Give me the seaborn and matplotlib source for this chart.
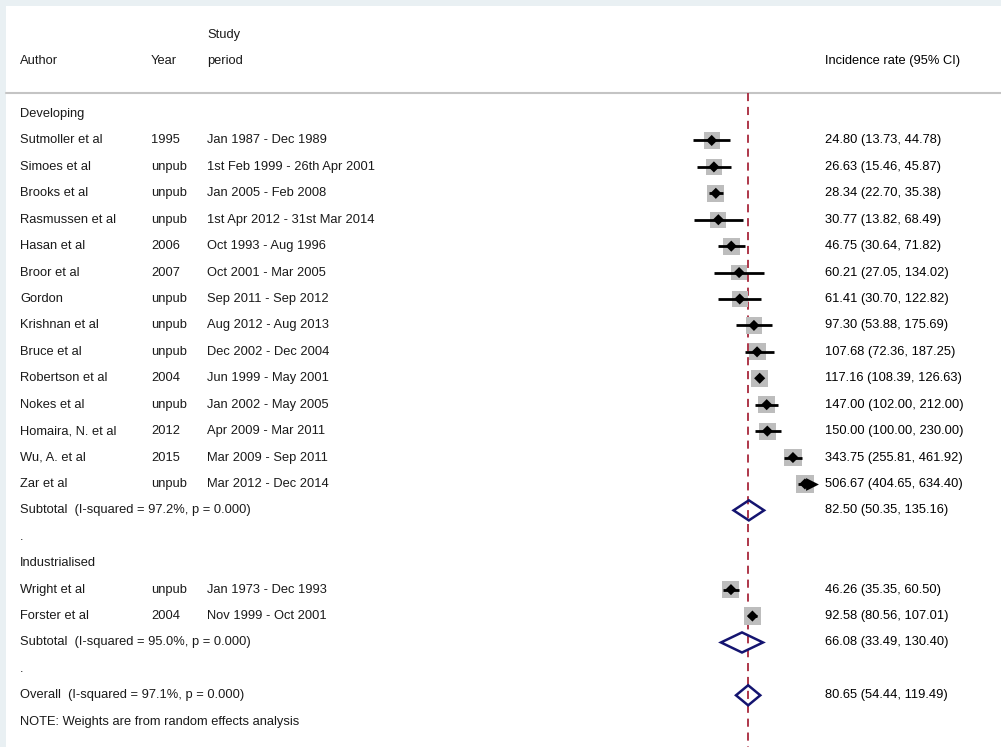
import numpy as np
import pandas as pd
import matplotlib
matplotlib.use("Agg")
import matplotlib.pyplot as plt
import matplotlib.transforms as mtransforms
from matplotlib.patches import Rectangle, Polygon
import seaborn as sns

sns.set_theme(style="white")
plt.rcParams["font.family"] = ["Liberation Sans", "DejaVu Sans"]

# ---- study-level data -------------------------------------------------
authors = ["Sutmoller et al", "Simoes et al", "Brooks et al", "Rasmussen et al",
           "Hasan et al", "Broor et al", "Gordon", "Krishnan et al", "Bruce et al",
           "Robertson et al", "Nokes et al", "Homaira, N. et al", "Wu, A. et al",
           "Zar et al", "Wright et al", "Forster et al"]
years = ["1995", "unpub", "unpub", "unpub", "2006", "2007", "unpub", "unpub",
         "unpub", "2004", "unpub", "2012", "2015", "unpub", "unpub", "2004"]
periods = ["Jan 1987 - Dec 1989", "1st Feb 1999 - 26th Apr 2001",
           "Jan 2005 - Feb 2008", "1st Apr 2012 - 31st Mar 2014",
           "Oct 1993 - Aug 1996", "Oct 2001 - Mar 2005", "Sep 2011 - Sep 2012",
           "Aug 2012 - Aug 2013", "Dec 2002 - Dec 2004", "Jun 1999 - May 2001",
           "Jan 2002 - May 2005", "Apr 2009 - Mar 2011", "Mar 2009 - Sep 2011",
           "Mar 2012 - Dec 2014", "Jan 1973 - Dec 1993", "Nov 1999 - Oct 2001"]
groups = ["Developing"] * 14 + ["Industrialised"] * 2
rate = [24.80, 26.63, 28.34, 30.77, 46.75, 60.21, 61.41, 97.30, 107.68,
        117.16, 147.00, 150.00, 343.75, 506.67, 46.26, 92.58]
lower = [13.73, 15.46, 22.70, 13.82, 30.64, 27.05, 30.70, 53.88, 72.36,
         108.39, 102.00, 100.00, 255.81, 404.65, 35.35, 80.56]
upper = [44.78, 45.87, 35.38, 68.49, 71.82, 134.02, 122.82, 175.69, 187.25,
         126.63, 212.00, 230.00, 461.92, 634.40, 60.50, 107.01]
weight = [6.4, 6.5, 7.2, 6.2, 7.0, 5.9, 6.3, 6.5, 7.0, 7.4, 7.1, 7.0, 7.2, 7.3,
          7.1, 7.4]

# ---- pooled estimates ---------------------------------------------------
pooled_labels = ["Subtotal  (I-squared = 97.2%, p = 0.000)",
                 "Subtotal  (I-squared = 95.0%, p = 0.000)",
                 "Overall  (I-squared = 97.1%, p = 0.000)"]
pooled_rate = [82.50, 66.08, 80.65]
pooled_lower = [50.35, 33.49, 54.44]
pooled_upper = [135.16, 130.40, 119.49]

note_text = "NOTE: Weights are from random effects analysis"
axis_max = 634.40

# ---- row layout ---------------------------------------------------------
study_rows = list(range(4, 18)) + [21, 22]
pooled_rows = [18, 23, 25]
group_rows = {"Developing": 3, "Industrialised": 20}
dot_rows = [19, 24]
note_row = 26

df = pd.DataFrame({"author": authors, "year": years, "period": periods,
                   "group": groups, "rate": rate, "lower": lower,
                   "upper": upper, "weight": weight, "row": study_rows})

W, H, DPI = 1001, 747, 100
fig = plt.figure(figsize=(W / DPI, H / DPI), dpi=DPI)
fig.patch.set_facecolor("#e9f0f3")
fig.patches.append(Rectangle((6 / W, 0), 1 - 6 / W, 1 - 6 / H,
                             transform=fig.transFigure, facecolor="white",
                             edgecolor="none", zorder=-10))

ax = fig.add_axes([0, 0, 1, 1])
ax.set_facecolor("none")
ax.set_xscale("log")
# log-scale mapping: 24.8 sits at pixel 711.7, 30.9 px per natural-log unit
px_per_ln, x_ref_px, x_ref_val = 30.9, 711.7, 24.8
ax.set_xlim(x_ref_val * np.exp(-x_ref_px / px_per_ln),
            x_ref_val * np.exp((W - x_ref_px) / px_per_ln))
row_px, row0_px = 26.42, 34.8
ax.set_ylim((H - row0_px) / row_px, -row0_px / row_px)
ax.axis("off")

tr = mtransforms.blended_transform_factory(fig.transFigure, ax.transData)

# header rule and overall-estimate dashed line
rule_row = (93.5 - row0_px) / row_px
ax.plot([6 / W, 1], [rule_row, rule_row], color="#c4c4c4", lw=1.5,
        transform=tr, zorder=1)
ax.vlines(pooled_rate[2], rule_row, ax.get_ylim()[0], colors="#a8283c",
          linestyles=(0, (4.5, 3.2)), lw=1.3, zorder=1)

# CI whiskers
for r in df.itertuples():
    hi = min(r.upper, axis_max)
    ax.hlines(r.row, r.lower, hi, colors="black", lw=2.0, zorder=4)

# weight boxes (area proportional to weight)
box_side_pt = 6.4 * np.sqrt(df["weight"].to_numpy()) * 0.72
sns.scatterplot(data=df, x="rate", y="row", marker="s", s=box_side_pt ** 2,
                color="#bdbdbd", edgecolor="none", linewidth=0, ax=ax,
                zorder=3, legend=False)
# point estimates
sns.scatterplot(data=df, x="rate", y="row", marker="D", s=32, color="black",
                edgecolor="none", linewidth=0, ax=ax, zorder=5, legend=False)
# truncated interval arrow
trunc = df[df["upper"] >= axis_max]
ax.scatter(trunc["upper"], trunc["row"], marker=">", s=85, color="black",
           zorder=6, linewidths=0)

# pooled diamonds
half_h = 0.38
for pr, lo, hi, row in zip(pooled_rate, pooled_lower, pooled_upper, pooled_rows):
    ax.add_patch(Polygon([[lo, row], [pr, row - half_h], [hi, row],
                          [pr, row + half_h]], closed=True, fill=False,
                         edgecolor="#141470", lw=1.8, zorder=6))

# text columns
fs = 9.3
left_col = "#1a1a1a"
x_author, x_year, x_period, x_est = 20 / W, 151 / W, 207 / W, 825 / W

def put(x, row, s, **kw):
    kw.setdefault("color", left_col)
    ax.text(x, row, s, transform=tr, fontsize=fs, va="center", ha="left", **kw)

put(x_period, 0, "Study")
put(x_author, 1, "Author")
put(x_year, 1, "Year")
put(x_period, 1, "period")
put(x_est, 1, "Incidence rate (95% CI)", color="black")

for g, row in group_rows.items():
    put(x_author, row, g)
for row in dot_rows:
    put(x_author, row, ".")

for r in df.itertuples():
    put(x_author, r.row, r.author)
    put(x_year, r.row, r.year)
    put(x_period, r.row, r.period)
    put(x_est, r.row, f"{r.rate:.2f} ({r.lower:.2f}, {r.upper:.2f})", color="black")

for lab, pr, lo, hi, row in zip(pooled_labels, pooled_rate, pooled_lower,
                                pooled_upper, pooled_rows):
    put(x_author, row, lab)
    put(x_est, row, f"{pr:.2f} ({lo:.2f}, {hi:.2f})", color="black")

put(x_author, note_row, note_text)

fig.savefig("out.png", dpi=DPI)
